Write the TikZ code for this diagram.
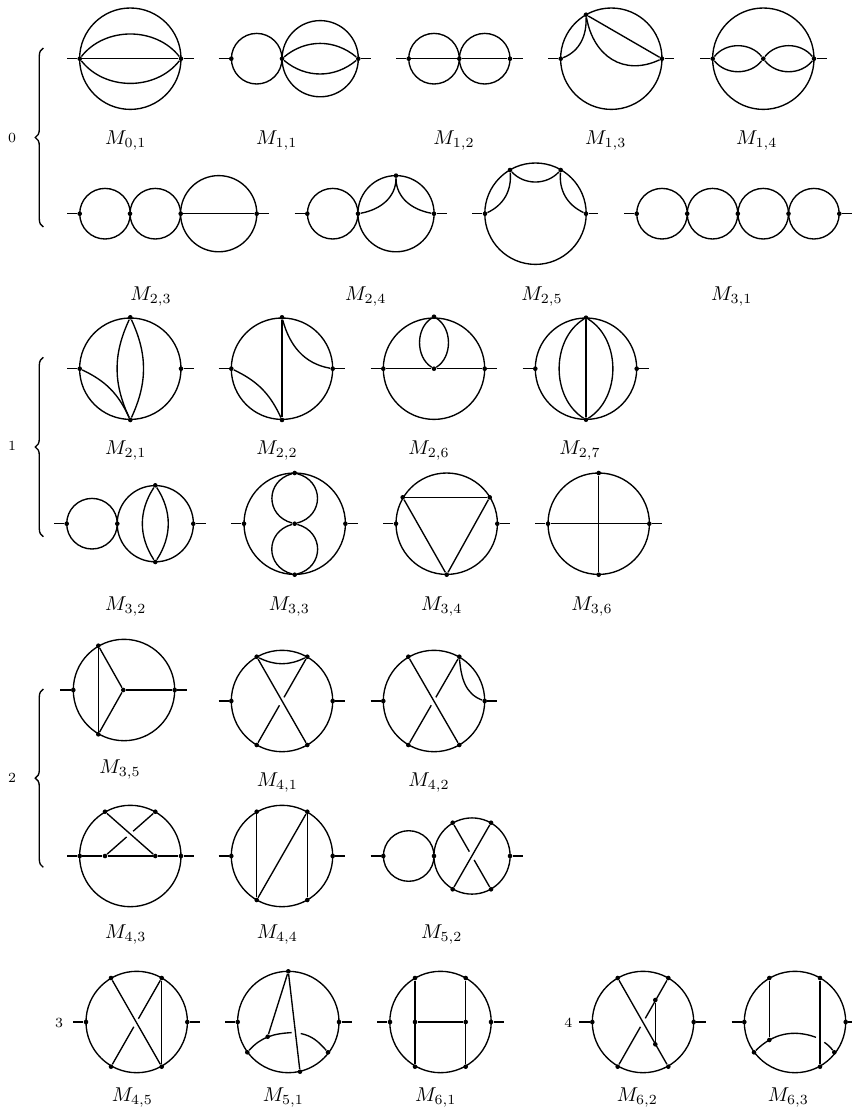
\documentclass[tikz,border=0pt]{standalone}
\usetikzlibrary{calc,decorations.pathreplacing}

\begin{document}
\begin{tikzpicture}[
  x=0.5pt, y=0.5pt,
  bigc/.style={draw, circle, line width=0.68pt, inner sep=0pt, minimum size=50.7pt},
  midc/.style={draw, circle, line width=0.68pt, inner sep=0pt, minimum size=38.1pt},
  smallc/.style={draw, circle, line width=0.68pt, inner sep=0pt, minimum size=25.3pt},
  vert/.style={circle, fill=black, inner sep=0pt, minimum size=2.3pt},
  edge/.style={-, line width=0.68pt},
  lab/.style={anchor=base},
  num/.style={font=\scriptsize},
  curly/.style={line width=0.68pt, decorate, decoration={brace, amplitude=4pt}}
]
\useasboundingbox (0,0) rectangle (852,-1113);

% --- loops -----------------------------------------------------------------
\foreach \n/\x/\y in {c01/130.3/58.7, c13/611.3/58.7, c14/763.3/58.7, c25/535.5/213.7,
    c21/130.3/368.7, c22/282/368.7, c26/434/368.7, c27/586/368.7,
    c33/294.7/523.7, c34/446.7/523.7, c36/598.7/523.7,
    c35/124/690, c41/282/701, c42/434/701, c43/130.3/856, c44/282/856,
    c45/136.7/1022, c51/288.3/1022, c61/440.5/1022, c62/643/1022, c63/795/1022}
  \node[bigc] (\n) at (\x,-\y) {};
\foreach \n/\x/\y in {d11/320.2/58.7, d23/218.7/213.7, d24/396/213.7, d32/155.3/523.7, d52/472/856}
  \node[midc] (\n) at (\x,-\y) {};
\foreach \n/\x/\y in {e11/256.7/58.7, e12a/434/58.7, e12b/484.7/58.7,
    e23a/105/213.7, e23b/155.3/213.7, e24/332.7/213.7,
    e31a/662/213.7, e31b/712.5/213.7, e31c/763.2/213.7, e31d/813.9/213.7,
    e32/92/523.7, e52/408.7/856}
  \node[smallc] (\n) at (\x,-\y) {};

% --- vertices --------------------------------------------------------------
\foreach \n/\x/\y in {m01l/79.7/58.7, m01r/181/58.7,
    m11l/231.3/58.7, m11m/282/58.7, m11r/358.3/58.7,
    m12l/408.7/58.7, m12m/459.3/58.7, m12r/510/58.7,
    m13l/560.7/58.7, m13r/662/58.7, m13t/586/14.7,
    m14l/712.7/58.7, m14m/763.3/58.7, m14r/814/58.7,
    m23l/79.7/213.7, m23a/130/213.7, m23m/180.7/213.7, m23r/256.7/213.7,
    m24l/307.3/213.7, m24m/358/213.7, m24r/434/213.7, m24t/396/175.6,
    m25l/485/213.7, m25r/586/213.7, m25a/510/170, m25b/560.7/170,
    m31l/636.7/213.7, m31a/687.2/213.7, m31m/737.8/213.7, m31b/788.5/213.7, m31r/839.3/213.7,
    m21l/79.7/368.7, m21r/181/368.7, m21t/130.3/317.3, m21b/130.3/420,
    m22l/231.3/368.7, m22r/332.7/368.7, m22t/282/317.3, m22b/282/420,
    m26l/383.3/368.7, m26r/484.7/368.7, m26m/434/368.7, m26t/434/316.7,
    m27l/535.3/368.7, m27r/636.7/368.7, m27t/586/317.7, m27b/586/419.7,
    m32l/66.7/523.7, m32m/117.3/523.7, m32r/193.3/523.7, m32t/155.3/485.3, m32b/155.3/562,
    m33l/244/523.7, m33r/345.4/523.7, m33t/294.7/473, m33m/294.7/523.7, m33b/294.7/574.7,
    m34l/396/523.7, m34r/497.3/523.7, m34a/402.7/497.3, m34c/489.7/497.3, m34b/446.7/574.7,
    m36l/548/523.7, m36r/649.3/523.7, m36t/598.7/473, m36b/598.7/574.7,
    m35l/73.3/690, m35r/174.7/690, m35m/123.3/690, m35t/98.3/645.7, m35b/98.3/734.3,
    m41l/231.3/701, m41r/332.7/701, m41tl/256.7/656.7, m41tr/307.3/656.7, m41bl/256.7/745, m41br/307.3/745,
    m42l/383.3/701, m42r/484.7/701, m42tl/408.3/656.7, m42tr/459.3/656.7, m42bl/408.3/745, m42br/459.3/745,
    m43l/79.7/856, m43r/181/856, m43tl/105/811.7, m43tr/155.3/811.7, m43bl/105/856, m43br/155.3/856,
    m44l/231.3/856, m44r/332.7/856, m44tl/256.7/811.7, m44tr/307.3/811.7, m44bl/256.7/900, m44br/307.3/900,
    m52l/383.3/856, m52m/434/856, m52r/510/856, m52tl/452.7/822.7, m52tr/491/822.7, m52bl/452.7/889.3, m52br/491/889.3,
    m45l/86/1022, m45r/187.3/1022, m45tl/111/978, m45tr/161.7/978, m45bl/111/1066.7, m45br/161.7/1066.7,
    m51l/237.7/1022, m51r/339/1022, m51t/288.3/971.3, m51b/300/1071.7, m51a/247.3/1052.3, m51c/328/1052.3, m51i/267.7/1036.7,
    m61l/390/1022, m61r/491/1022, m61tl/415/978, m61tr/465.7/978, m61bl/415/1066.7, m61br/465.7/1066.7, m61ml/415/1022, m61mr/465.7/1022,
    m62l/592.3/1022, m62r/693.7/1022, m62tl/617.7/978, m62tr/668.3/978, m62bl/617.7/1066.7, m62br/668.3/1066.7, m62u/655.3/1000, m62v/655.3/1044.3,
    m63l/744.3/1022, m63r/845.7/1022, m63tl/769.3/978, m63tr/820/978, m63br/820/1066.7, m63i/769.3/1040, m63a/754/1052.3, m63c/834.3/1052.3}
  \node[vert] (\n) at (\x,-\y) {};

% --- external legs ---------------------------------------------------------
\foreach \d/\xa/\xb/\y in {m01/67/193.5/58.7, m11/218.7/370.7/58.7, m12/396/522.7/58.7, m13/548/674.3/58.7, m14/700/826.7/58.7,
    m23/67/269.3/213.7, m24/294.7/446.7/213.7, m25/472/598.3/213.7, m31/624/852/213.7,
    m21/67/193.5/368.7, m22/218.7/345/368.7, m26/370.7/497.3/368.7, m27/522.7/649.3/368.7,
    m32/54/206/523.7, m33/231/357.7/523.7, m34/383.3/510/523.7, m36/535/662/523.7,
    m35/60/187.3/690, m41/218.7/345/701, m42/370.7/497.3/701,
    m43/67/193.5/856, m44/218.7/345/856, m52/370.7/522.7/856,
    m45/73.3/200/1022, m51/225/351.7/1022, m61/377.3/503.7/1022, m62/579.3/706/1022, m63/731.7/852/1022} {
  \coordinate (\d in) at (\xa,-\y);
  \coordinate (\d out) at (\xb,-\y);
  \draw[edge] (\d in) -- (\d l);
  \draw[edge] (\d r) -- (\d out);
}

% --- inner lines -----------------------------------------------------------
\foreach \a/\b in {m01l/m01r, m12l/m12m, m12m/m12r, m23m/m23r, m22t/m22b, m26l/m26m, m26m/m26r,
    m27t/m27b, m34a/m34c, m34c/m34b, m34b/m34a, m36l/m36r, m36t/m36b,
    m35t/m35b, m35t/m35m, m35b/m35m, m35m/m35r,
    m41tl/m41br, m42tl/m42br, m43l/m43bl, m43bl/m43br, m43br/m43r, m43tl/m43br,
    m44tl/m44bl, m44tr/m44br, m44bl/m44tr, m52bl/m52tr,
    m45tl/m45br, m45tr/m45br, m51t/m51i, m51t/m51b,
    m61tl/m61bl, m61tr/m61br, m61ml/m61mr, m62tl/m62br, m62u/m62v, m63tl/m63i, m63tr/m63br}
  \draw[edge] (\a) -- (\b);

% --- broken lines ----------------------------------------------------------
\foreach \a/\b/\s/\t in {m41bl/m41tr/.45/.54, m42bl/m42tr/.45/.54, m43bl/m43tr/.43/.56,
    m52tl/m52br/.435/.56, m45bl/m45tr/.45/.54, m62bl/m62tr/.45/.545} {
  \draw[edge] (\a) -- ($(\a)!\s!(\b)$);
  \draw[edge] ($(\a)!\t!(\b)$) -- (\b);
}

% --- arcs ------------------------------------------------------------------
\draw[edge] (m01l) to[bend left=52] (m01r);
\draw[edge] (m01l) to[bend right=52] (m01r);
\draw[edge] (m11m) to[bend left=40] (m11r);
\draw[edge] (m11m) to[bend right=40] (m11r);
\draw[edge] (m13t) to[out=-88,in=22] (m13l);
\draw[edge] (m13t) to[out=-80,in=205,looseness=1.2] (m13r);
\draw[edge] (m13t) -- (m13r);
\draw[edge] (m14l) to[bend left=52] (m14m);
\draw[edge] (m14l) to[bend right=52] (m14m);
\draw[edge] (m14m) to[bend left=52] (m14r);
\draw[edge] (m14m) to[bend right=52] (m14r);
\draw[edge] (m24t) to[out=-90,in=10] (m24m);
\draw[edge] (m24t) to[out=-90,in=170] (m24r);
\draw[edge] (m25a) to[out=-85,in=25] (m25l);
\draw[edge] (m25b) to[out=-95,in=155] (m25r);
\draw[edge] (m25a) to[bend right=47] (m25b);
\draw[edge] (m21t) to[bend left=25] (m21b);
\draw[edge] (m21t) to[bend right=25] (m21b);
\draw[edge] (m21l) to[bend left=20] (m21b);
\draw[edge] (m22l) to[bend left=20] (m22b);
\draw[edge] (m22t) to[out=-75,in=170] (m22r);
\draw[edge] (m26t) to[bend left=58] (m26m);
\draw[edge] (m26t) to[bend right=58] (m26m);
\draw[edge] (m27t) to[bend left=58] (m27b);
\draw[edge] (m27t) to[bend right=58] (m27b);
\draw[edge] (m32t) to[bend left=33] (m32b);
\draw[edge] (m32t) to[bend right=33] (m32b);
\draw[edge] (m33t) to[bend left=75,looseness=1.45] (m33m);
\draw[edge] (m33t) to[bend right=75,looseness=1.45] (m33m);
\draw[edge] (m33m) to[bend left=75,looseness=1.45] (m33b);
\draw[edge] (m33m) to[bend right=75,looseness=1.45] (m33b);
\draw[edge] (m41tl) to[bend right=26] (m41tr);
\draw[edge] (m42tr) to[out=-85,in=160] (m42r);

% --- arcs with a gap -------------------------------------------------------
\coordinate (m51p) at (291.7,-1032.6);
\coordinate (m51q) at (300.7,-1033.5);
\draw[edge] (m51a) to[out=48,in=183] (m51p);
\draw[edge] (m51c) to[out=132,in=-12] (m51q);
\coordinate (m63p) at (816,-1037.3);
\coordinate (m63q) at (824.3,-1042.3);
\draw[edge] (m63a) to[out=45,in=160] (m63p);
\draw[edge] (m63q) to[bend left=8] (m63c);

% --- braces and orders -----------------------------------------------------
\foreach \n/\ya/\yb/\y in {0/227/48/137.5, 1/536.7/357.3/446, 2/867.3/689/778} {
  \coordinate (br\n a) at (43.3,-\ya);
  \coordinate (br\n b) at (43.3,-\yb);
  \draw[curly] (br\n a) -- (br\n b);
  \node[num] (n\n) at (12,-\y) {\n};
}
\node[num] (n3) at (59,-1023) {3};
\node[num] (n4) at (568.3,-1023) {4};

% --- labels ----------------------------------------------------------------
\foreach \i/\j/\x in {0/1/125.7, 1/1/276.7, 1/2/454, 1/3/605.7, 1/4/756.7}
  \node[lab] (l\i\j) at (\x,-144.5) {$M_{\i,\j}$};
\foreach \i/\j/\x in {2/3/151, 2/4/365.7, 2/5/542, 3/1/731.7}
  \node[lab] (l\i\j) at (\x,-300) {$M_{\i,\j}$};
\foreach \i/\j/\x in {2/1/125.7, 2/2/277, 2/6/429, 2/7/580}
  \node[lab] (l\i\j) at (\x,-454.3) {$M_{\i,\j}$};
\foreach \i/\j/\x in {3/2/125.7, 3/3/289.3, 3/4/441.7, 3/6/592}
  \node[lab] (l\i\j) at (\x,-610) {$M_{\i,\j}$};
\node[lab] (l35) at (120,-773.3) {$M_{3,5}$};
\foreach \i/\j/\x in {4/1/277.3, 4/2/429}
  \node[lab] (l\i\j) at (\x,-786) {$M_{\i,\j}$};
\foreach \i/\j/\x in {4/3/125.7, 4/4/277.3, 5/2/441.7}
  \node[lab] (l\i\j) at (\x,-938) {$M_{\i,\j}$};
\foreach \i/\j/\x in {4/5/132.3, 5/1/283.3, 6/1/435.7, 6/2/637.3, 6/3/788.3}
  \node[lab] (l\i\j) at (\x,-1101) {$M_{\i,\j}$};
\end{tikzpicture}
\end{document}
